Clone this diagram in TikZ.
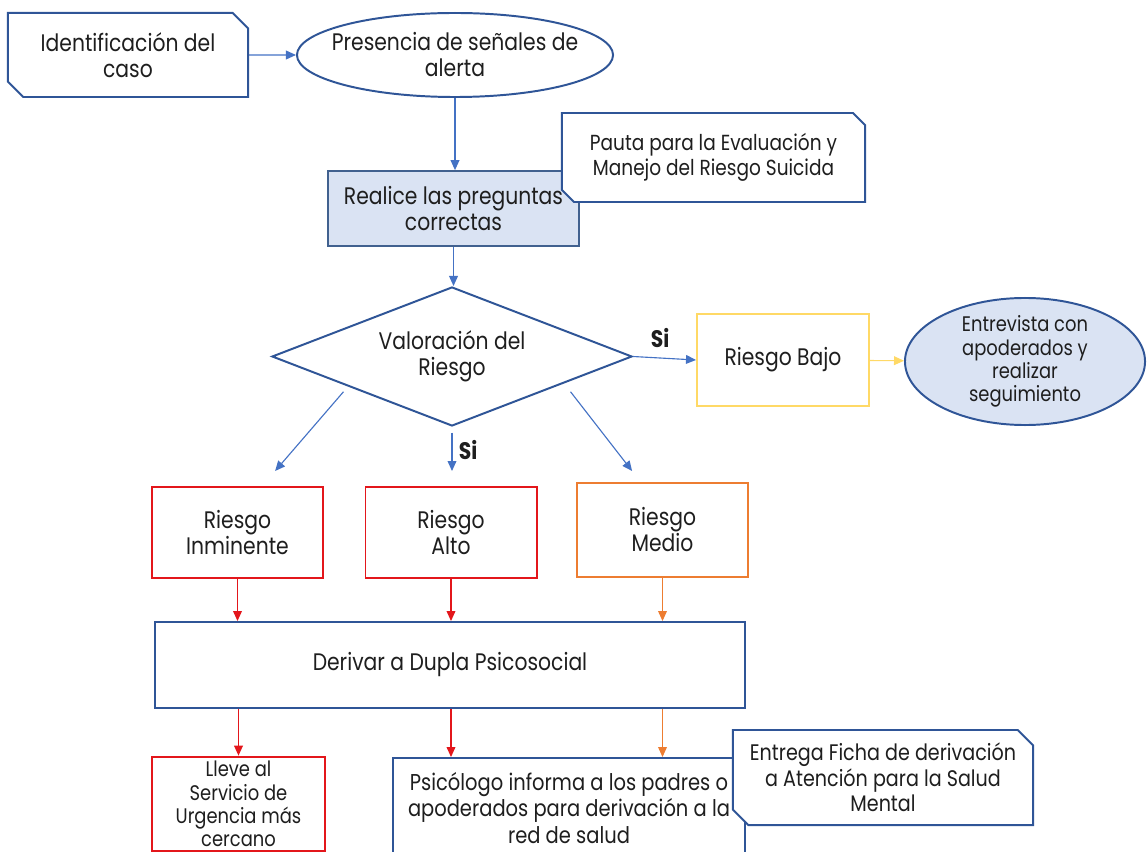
\documentclass[tikz,border=0pt]{standalone}
\usepackage{fontspec}
\setmainfont[FakeStretch=0.85]{Poppins}
\usepackage{tikz}
\usetikzlibrary{arrows.meta, positioning, shapes.geometric, shapes.misc}
\definecolor{borde}{HTML}{2F5597}
\definecolor{bordegris}{HTML}{41618F}
\definecolor{flecha}{HTML}{4472C4}
\definecolor{relleno}{HTML}{DAE3F3}
\definecolor{rojo}{HTML}{E3161B}
\definecolor{naranja}{HTML}{ED7D31}
\definecolor{amarillo}{HTML}{FFD966}
\definecolor{texto}{HTML}{1E1E1E}
\tikzset{%
	caja/.style={
		draw=borde,
		line width=1.4pt,
		fill=white,
		align=center
	},
	documento/.style={
		caja,
		chamfered rectangle,
		chamfered rectangle corners={north east, south west},
		chamfered rectangle xsep=0.19cm,
		chamfered rectangle ysep=0.19cm
	},
	riesgo/.style={
		caja,
		minimum width=4.275cm,
		minimum height=2.275cm
	},
	flechaazul/.style={draw=flecha, line width=0.8pt, -{Triangle[length=2.5mm, width=2.2mm]}},
	flecharoja/.style={flechaazul, draw=rojo, -{Triangle[length=2.5mm, width=2.2mm, fill=rojo]}},
	flechanaranja/.style={flechaazul, draw=naranja, -{Triangle[length=2.5mm, width=2.2mm, fill=naranja]}},
	flechaamarilla/.style={flechaazul, draw=amarillo, -{Triangle[length=2.5mm, width=2.2mm, fill=amarillo]}},
}

\begin{document}
\begin{tikzpicture}[
		x=0.025cm, y=-0.025cm,
		every node/.style={text=texto, font=\fontsize{17}{18.5}\selectfont},
		chica/.style={font=\fontsize{15}{16.5}\selectfont},
		sinota/.style={font=\bfseries\fontsize{17}{18}\selectfont, inner sep=0pt}
		]
		\clip (0,0) rectangle (1148,852);
		
		% Nodes of the flow
		\node[documento, minimum width=6cm, minimum height=2.1cm] (ident) at (128,55) {Identificación del\\caso};
		\node[caja, ellipse, inner sep=-0.4cm, minimum width=7.9cm, minimum height=2.1cm] (alerta) at (455,55) {Presencia de señales de\\alerta};
		\node[caja, draw=bordegris, line width=1.2pt, fill=relleno, minimum width=6.275cm, minimum height=1.875cm] (preguntas) at (453.5,208.5) {Realice las preguntas\\correctas};
		\node[documento, chamfered rectangle xsep=0.15cm, chamfered rectangle ysep=0.15cm, minimum width=7.575cm, minimum height=2.225cm, font=\fontsize{15.5}{17.5}\selectfont] (pauta) at (713.5,157.5) {Pauta para la Evaluación y\\Manejo del Riesgo Suicida};
		\node[caja, diamond, aspect=2.6, inner sep=0pt, minimum width=9cm, minimum height=3.475cm] (valoracion) at (452,356.5) {Valoración del\\Riesgo};
		\node[caja, draw=amarillo, minimum width=4.3cm, minimum height=2.3cm] (bajo) at (783,360) {Riesgo Bajo};
		\node[caja, chica, ellipse, fill=relleno, inner sep=-0.4cm, minimum width=6cm, minimum height=3.175cm] (entrevista) at (1025,361.5) {Entrevista con\\apoderados y\\realizar\\seguimiento};
		\node[riesgo, draw=rojo] (inminente) at (237.5,532.5) {Riesgo\\Inminente};
		\node[riesgo, draw=rojo] (alto) at (451,532.5) {Riesgo\\Alto};
		\node[riesgo, draw=naranja, minimum height=2.35cm] (medio) at (662.5,530) {Riesgo\\Medio};
		\node[caja, minimum width=14.75cm, minimum height=2.15cm] (derivar) at (450,665) {Derivar a Dupla Psicosocial};
		\node[caja, chica, draw=rojo, minimum width=4.325cm, minimum height=2.3cm] (lleve) at (238.5,804) {Lleve al\\Servicio de\\Urgencia más\\cercano};
		\node[caja, minimum width=8.8cm, minimum height=2.5cm, font=\fontsize{16.3}{19}\selectfont] (psicologo) at (569,808) {Psicólogo informa a los padres o\\apoderados para derivación a la\\red de salud};
		\node[documento, minimum width=7.5cm, minimum height=2.375cm, font=\fontsize{16}{18}\selectfont] (entrega) at (883,777.5) {Entrega Ficha de derivación\\a Atención para la Salud\\Mental};
		\node[sinota] (si1) at (660,338) {Si};
		\node[sinota] (si2) at (468,450) {Si};
		
		% Connectors
		\draw[flechaazul] (ident) -- (alerta);
		\draw[flechaazul] (alerta.south) -- (alerta.south |- preguntas.north);
		\draw[flechaazul] (preguntas.south) -- (preguntas.south |- valoracion.north);
		\draw[flechaazul] (valoracion.east) -- (bajo.west);
		\draw[flechaamarilla] (bajo) -- (entrevista);
		\draw[flechaazul] ([xshift=-0.45cm]valoracion.south west) -- ([xshift=0.94cm, yshift=0.375cm]inminente.north);
		\draw[flechaazul, shorten <=4pt, shorten >=0.375cm] (valoracion.south) -- (valoracion.south |- alto.north);
		\draw[flechaazul] ([xshift=0.7cm]valoracion.south east) -- ([xshift=-0.76cm, yshift=0.275cm]medio.north);
		\draw[flecharoja] (inminente.south) -- (inminente.south |- derivar.north);
		\draw[flecharoja] (alto.south) -- (alto.south |- derivar.north);
		\draw[flechanaranja] (medio.south) -- (medio.south |- derivar.north);
		\draw[flecharoja] (derivar.south -| lleve.north) -- (lleve.north);
		\draw[flecharoja] (derivar.south -| alto) -- (psicologo.north -| alto);
		\draw[flechanaranja] (derivar.south -| medio) -- (psicologo.north -| medio);
		
\end{tikzpicture}
\end{document}
